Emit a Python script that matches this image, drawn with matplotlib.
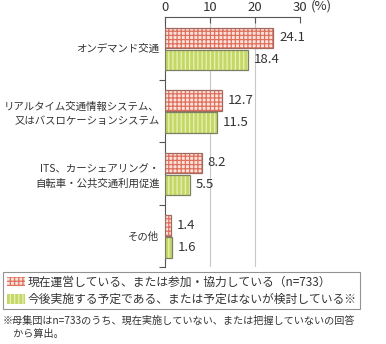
import matplotlib.pyplot as plt
import matplotlib.patches as mpatches
from matplotlib.transforms import blended_transform_factory

plt.rcParams['font.family'] = ['Noto Sans CJK JP', 'DejaVu Sans']
plt.rcParams['hatch.linewidth'] = 0.9

categories = ['オンデマンド交通',
              'リアルタイム交通情報システム、\n又はバスロケーションシステム',
              'ITS、カーシェアリング・\n自転車・公共交通利用促進',
              'その他']
current = [24.1, 12.7, 8.2, 1.4]
planned = [18.4, 11.5, 5.5, 1.6]
series_names = ['現在運営している、または参加・協力している（n=733）',
                '今後実施する予定である、または予定はないが検討している※']
note = '※母集団はn=733のうち、現在実施していない、または把握していないの回答\n　から算出。'

text_col = '#333333'
red_face = '#fbe3dc'
red_hatch = '#e0705e'
red_edge = '#a06a60'
green_face = '#c3d865'
green_hatch = '#e9f1b8'
green_edge = '#7c7f62'

fig = plt.figure(figsize=(3.86, 3.44), dpi=100)
ax = fig.add_axes([165 / 386, 1 - 267 / 344, 135 / 386, 250 / 344])

y = list(range(len(categories)))
h = 0.33
y_red = [v - 0.165 for v in y]
y_green = [v + 0.185 for v in y]

# hatched fill first, then a plain outline on top
ax.barh(y_red, current, height=h, color=red_face, hatch='++++',
        edgecolor=red_hatch, linewidth=0, zorder=3)
ax.barh(y_red, current, height=h, color='none', edgecolor=red_edge,
        linewidth=0.9, zorder=4)
ax.barh(y_green, planned, height=h, color=green_face, hatch='||||',
        edgecolor=green_hatch, linewidth=0, zorder=3)
ax.barh(y_green, planned, height=h, color='none', edgecolor=green_edge,
        linewidth=0.9, zorder=4)

for yy, v in zip(y_red, current):
    ax.text(v + 1.3, yy, f'{v:.1f}', va='center', ha='left',
            fontsize=9.5, color=text_col)
for yy, v in zip(y_green, planned):
    ax.text(v + 1.3, yy, f'{v:.1f}', va='center', ha='left',
            fontsize=9.5, color=text_col)

ax.set_xlim(0, 30)
ax.set_ylim(len(categories) - 0.5, -0.5)

for gx in (10, 20):
    ax.axvline(gx, color='#c8c8c8', linewidth=0.8, zorder=1)

ax.xaxis.tick_top()
ax.set_xticks([0, 10, 20, 30])
ax.set_xticklabels(['0', '10', '20', '30'])
ax.tick_params(axis='x', direction='in', length=4, width=0.8, color='#555555',
               labelsize=9.5, labelcolor=text_col, pad=2)
tr = blended_transform_factory(ax.transData, ax.transAxes)
ax.annotate('(%)', xy=(30, 1), xycoords=tr, xytext=(8, 3.5),
            textcoords='offset points', ha='left', va='bottom',
            fontsize=9.5, color=text_col)

ax.set_yticks(y)
ax.set_yticklabels(categories, fontsize=7.5, color=text_col,
                   linespacing=1.5, multialignment='right')
ax.tick_params(axis='y', length=0, pad=4)
ax.set_yticks([v + 0.5 for v in y[:-1]] + [len(categories) - 0.5], minor=True)
ax.tick_params(axis='y', which='minor', direction='out', length=4,
               width=0.8, color='#555555')

for side in ('right', 'bottom'):
    ax.spines[side].set_visible(False)
for side in ('left', 'top'):
    ax.spines[side].set_color('#555555')
    ax.spines[side].set_linewidth(0.8)

handles = [
    mpatches.Patch(facecolor=red_face, hatch='++++', edgecolor=red_hatch,
                   linewidth=0),
    mpatches.Patch(facecolor=green_face, hatch='||||', edgecolor=green_hatch,
                   linewidth=0),
]
leg = fig.legend(handles, series_names, loc='upper left',
                 bbox_to_anchor=(3 / 386, 1 - 272 / 344), fontsize=8.5,
                 frameon=True, fancybox=False, edgecolor='#777777',
                 handlelength=1.6, handleheight=0.9, handletextpad=0.2,
                 borderpad=0.3, labelspacing=0.35, borderaxespad=0)
leg.get_frame().set_linewidth(0.8)
for t in leg.get_texts():
    t.set_color(text_col)

fig.text(3 / 386, 1 - 316 / 344, note, ha='left', va='top', fontsize=7.3,
         color=text_col, linespacing=1.3)

fig.savefig('out.png', dpi=100)
